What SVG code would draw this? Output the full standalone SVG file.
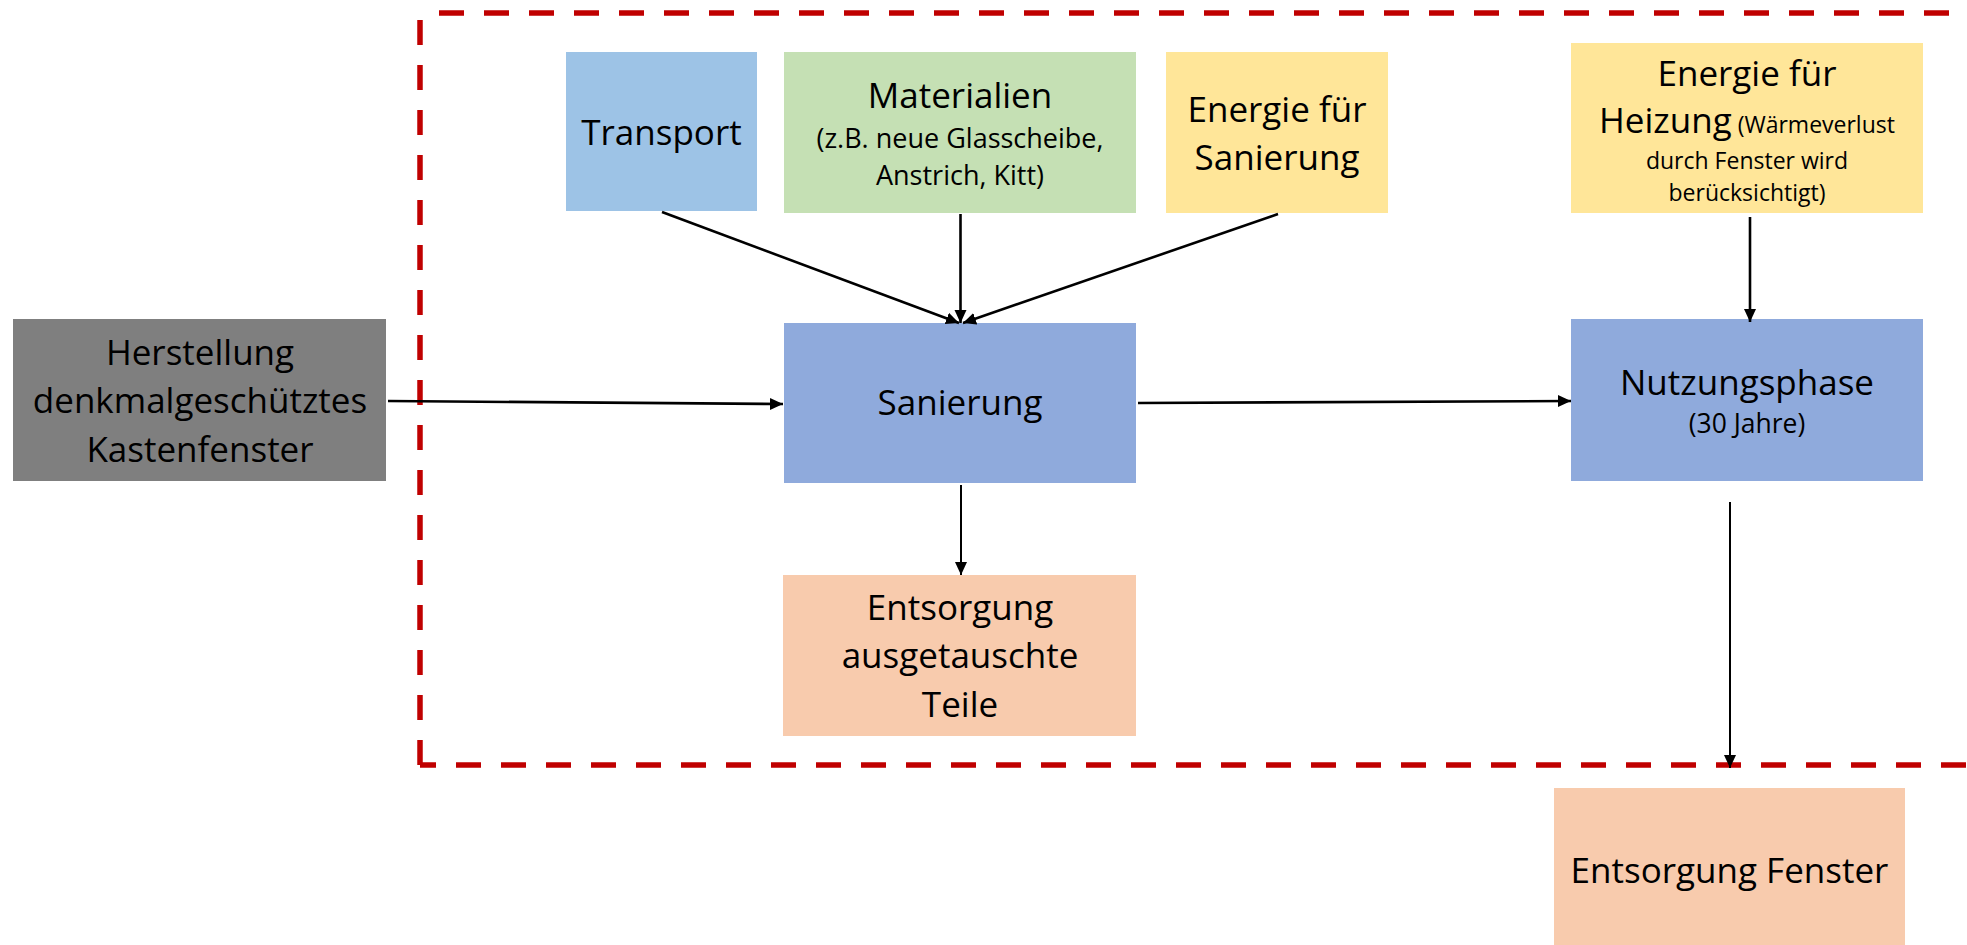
<svg xmlns="http://www.w3.org/2000/svg" width="1967" height="945" viewBox="0 0 1967 945">
  <style>
    .lbl { font-family: "Open Sans", "Noto Sans", "Liberation Sans", sans-serif; fill: #000000; text-anchor: middle; }
    .big { font-size: 35px; }
    .sub { font-size: 27px; }
    .small { font-size: 23px; }
    .yrs { font-size: 26.5px; }
    .boundary { fill: none; stroke: #C00000; stroke-width: 5.5; stroke-dasharray: 25 20; }
    .flow { fill: none; stroke: #000000; stroke-width: 2.6; }
    .flow-thin { fill: none; stroke: #000000; stroke-width: 2; }
  </style>
  <defs>
    <marker id="arrow" markerUnits="userSpaceOnUse" markerWidth="14" markerHeight="14" viewBox="0 0 14 14" refX="13" refY="7" orient="auto">
      <path d="M0,1 L13,7 L0,13 Z" fill="#000000"/>
    </marker>
  </defs>

  <rect width="1967" height="945" fill="#FFFFFF"/>

  <!-- system boundary (dashed red frame, open to the right) -->
  <g id="boundary">
    <line class="boundary" x1="420" y1="765" x2="420" y2="13"/>
    <line class="boundary" x1="439" y1="13" x2="1990" y2="13"/>
    <line class="boundary" x1="420" y1="765" x2="1990" y2="765" stroke-dashoffset="9"/>
  </g>

  <g id="herstellung">
    <rect x="13" y="319" width="373" height="162" fill="#7F7F7F"/>
    <text class="lbl big" x="200" y="365">Herstellung</text>
    <text class="lbl big" x="200" y="413">denkmalgeschütztes</text>
    <text class="lbl big" x="200" y="462">Kastenfenster</text>
  </g>

  <g id="transport">
    <rect x="566" y="52" width="191" height="159" fill="#9DC3E6"/>
    <text class="lbl big" x="661.5" y="145">Transport</text>
  </g>

  <g id="materialien">
    <rect x="784" y="52" width="352" height="161" fill="#C5E0B4"/>
    <text class="lbl big" x="960" y="108">Materialien</text>
    <text class="lbl sub" x="960" y="148">(z.B. neue Glasscheibe,</text>
    <text class="lbl sub" x="960" y="185">Anstrich, Kitt)</text>
  </g>

  <g id="energie-sanierung">
    <rect x="1166" y="52" width="222" height="161" fill="#FFE699"/>
    <text class="lbl big" x="1277" y="122">Energie für</text>
    <text class="lbl big" x="1277" y="170">Sanierung</text>
  </g>

  <g id="energie-heizung">
    <rect x="1571" y="43" width="352" height="170" fill="#FFE699"/>
    <text class="lbl big" x="1747" y="86">Energie für</text>
    <text class="lbl" x="1747" y="133"><tspan class="big">Heizung</tspan><tspan class="small"> (Wärmeverlust</tspan></text>
    <text class="lbl small" x="1747" y="169">durch Fenster wird</text>
    <text class="lbl small" x="1747" y="201">berücksichtigt)</text>
  </g>

  <g id="sanierung">
    <rect x="784" y="323" width="352" height="160" fill="#8FAADC"/>
    <text class="lbl big" x="960" y="415">Sanierung</text>
  </g>

  <g id="nutzungsphase">
    <rect x="1571" y="319" width="352" height="162" fill="#8FAADC"/>
    <text class="lbl big" x="1747" y="395">Nutzungsphase</text>
    <text class="lbl yrs" x="1747" y="433">(30 Jahre)</text>
  </g>

  <g id="entsorgung-teile">
    <rect x="783" y="575" width="353" height="161" fill="#F8CBAD"/>
    <text class="lbl big" x="960" y="620">Entsorgung</text>
    <text class="lbl big" x="960" y="668">ausgetauschte</text>
    <text class="lbl big" x="960" y="717">Teile</text>
  </g>

  <g id="entsorgung-fenster">
    <rect x="1554" y="788" width="351" height="162" fill="#F8CBAD"/>
    <text class="lbl big" x="1729.5" y="883">Entsorgung Fenster</text>
  </g>

  <g id="connectors">
    <line class="flow" x1="388" y1="401" x2="783" y2="404" marker-end="url(#arrow)"/>
    <line class="flow" x1="1138" y1="403" x2="1571" y2="401" marker-end="url(#arrow)"/>
    <line class="flow" x1="662" y1="212" x2="959" y2="323" marker-end="url(#arrow)"/>
    <line class="flow" x1="960.5" y1="214" x2="960.5" y2="323" marker-end="url(#arrow)"/>
    <line class="flow" x1="1278" y1="214" x2="963" y2="323" marker-end="url(#arrow)"/>
    <line class="flow" x1="1750" y1="217" x2="1750" y2="322" marker-end="url(#arrow)"/>
    <line class="flow-thin" x1="961" y1="485" x2="961" y2="575" marker-end="url(#arrow)"/>
    <line class="flow-thin" x1="1730" y1="502" x2="1730" y2="768" marker-end="url(#arrow)"/>
  </g>
</svg>
